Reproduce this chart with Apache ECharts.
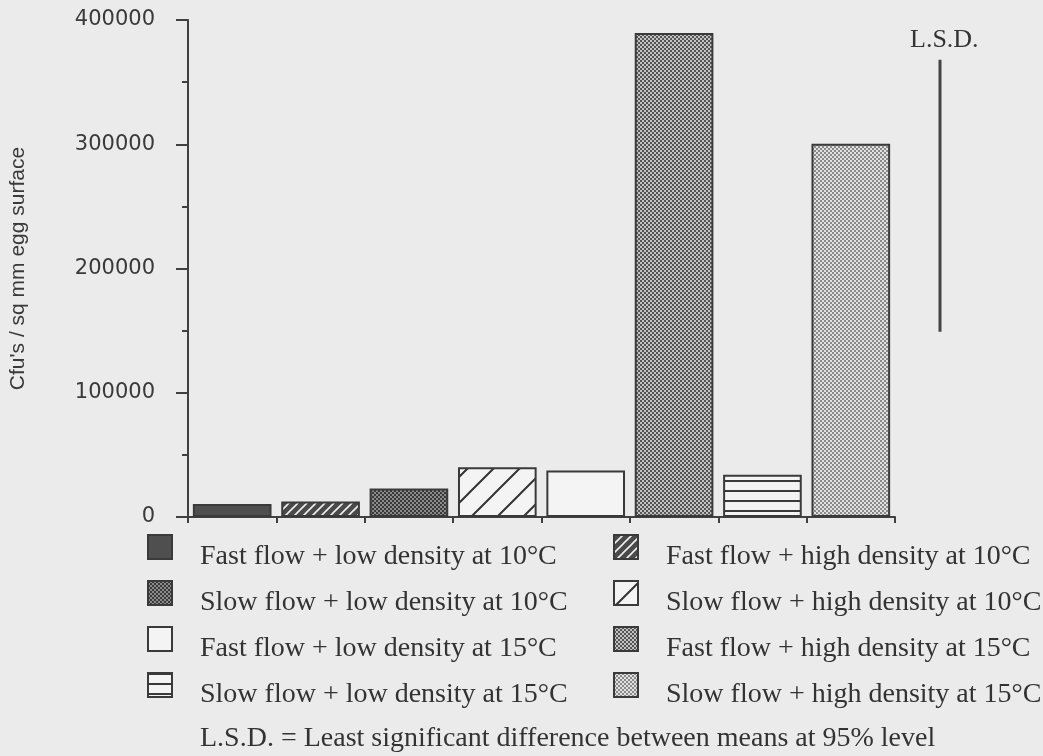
<!DOCTYPE html>
<html>
<head>
<meta charset="utf-8">
<script src="https://cdn.jsdelivr.net/npm/echarts@6/dist/echarts.min.js"></script>
<style>
html,body{margin:0;padding:0;background:#ebebeb;}
#chart{width:1043px;height:756px;}
</style>
</head>
<body>
<div id="chart"></div>
<script>
// ---- data ----
const categories = [
  'Fast flow + low density at 10°C',
  'Fast flow + high density at 10°C',
  'Slow flow + low density at 10°C',
  'Slow flow + high density at 10°C',
  'Fast flow + low density at 15°C',
  'Fast flow + high density at 15°C',
  'Slow flow + low density at 15°C',
  'Slow flow + high density at 15°C'
];
const values = [10500, 12500, 23000, 40000, 37500, 389500, 34000, 300500];
const legendLeft = [categories[0], categories[2], categories[4], categories[6]];
const legendRight = [categories[1], categories[3], categories[5], categories[7]];
const yMin = 0, yMax = 400000, yInterval = 100000;
const yAxisTitle = "Cfu's / sq mm egg surface";
const lsdLabel = 'L.S.D.';
const lsdRange = [149000, 368000];
const footnote = 'L.S.D. = Least significant difference between means at 95% level';

// ---- fill patterns ----
function pattern(w, h, draw) {
  const c = document.createElement('canvas');
  c.width = w; c.height = h;
  const ctx = c.getContext('2d');
  draw(ctx, w, h);
  return { image: c, repeat: 'repeat' };
}
function dots(dark, light) {
  return pattern(4, 4, (ctx) => {
    ctx.fillStyle = light; ctx.fillRect(0, 0, 4, 4);
    ctx.fillStyle = dark; ctx.fillRect(0, 0, 2, 2); ctx.fillRect(2, 2, 2, 2);
  });
}
function diag(bg, fg, size, lw) {
  return pattern(size, size, (ctx, w, h) => {
    ctx.fillStyle = bg; ctx.fillRect(0, 0, w, h);
    ctx.strokeStyle = fg; ctx.lineWidth = lw;
    ctx.beginPath();
    ctx.moveTo(-w, 2 * h); ctx.lineTo(2 * w, -h);
    ctx.moveTo(-w, h); ctx.lineTo(w, -h);
    ctx.moveTo(0, 2 * h); ctx.lineTo(2 * w, 0);
    ctx.stroke();
  });
}
const fills = [
  '#4f4f4f',
  diag('#4a4a4a', '#f0f0f0', 9, 1.6),
  dots('#3a3a3a', '#8a8a8a'),
  diag('#f4f4f4', '#333333', 26, 2),
  '#f4f4f4',
  dots('#555555', '#c2c2c2'),
  pattern(4, 10, (ctx) => {
    ctx.fillStyle = '#f4f4f4'; ctx.fillRect(0, 0, 4, 10);
    ctx.fillStyle = '#3a3a3a'; ctx.fillRect(0, 0, 4, 2);
  }),
  dots('#8a8a8a', '#e0e0e0')
];

const chart = echarts.init(document.getElementById('chart'), null, { renderer: 'canvas' });

const barSeries = categories.map((name, i) => ({
  type: 'bar',
  name: name,
  stack: 'all',
  barWidth: '89%',
  data: values.map((v, j) => (j === i ? v : '-')),
  itemStyle: { color: fills[i], borderColor: '#3a3a3a', borderWidth: 2 },
  emphasis: { disabled: true }
}));

// legend swatch: a square in the upper part of a taller item box
const swatch = 'path://M0,0H24V24H0Z M24,44';

const legendCommon = {
  orient: 'vertical',
  top: 534,
  padding: 0,
  itemGap: 0,
  itemWidth: 24,
  itemHeight: 44,
  icon: swatch,
  selectedMode: false,
  textStyle: {
    fontFamily: 'Liberation Serif',
    fontSize: 28,
    color: '#333333',
    padding: [0, 0, 0, 23]
  }
};

chart.setOption({
  backgroundColor: '#ebebeb',
  animation: false,
  title: [
    {
      text: lsdLabel, left: 910, top: 27, padding: 0,
      textStyle: { fontFamily: 'Liberation Serif', fontSize: 26, fontWeight: 'normal', color: '#333', lineHeight: 26 }
    },
    {
      text: footnote, left: 200, top: 724, padding: 0,
      textStyle: { fontFamily: 'Liberation Serif', fontSize: 28, fontWeight: 'normal', color: '#333', lineHeight: 30 }
    }
  ],
  legend: [
    Object.assign({}, legendCommon, { left: 147, data: legendLeft }),
    Object.assign({}, legendCommon, { left: 613, data: legendRight })
  ],
  grid: [
    { left: 187, right: 148, top: 20, bottom: 239 },
    { left: 900, right: 63, top: 20, bottom: 239 }
  ],
  xAxis: [
    {
      type: 'category', gridIndex: 0, data: categories,
      axisLine: { lineStyle: { color: '#404040', width: 2 } },
      axisTick: { show: true, interval: 0, length: 6, lineStyle: { color: '#404040', width: 2 } },
      axisLabel: { show: false },
      splitLine: { show: false }
    },
    {
      type: 'category', gridIndex: 1, data: [lsdLabel], show: false
    }
  ],
  yAxis: [
    {
      type: 'value', gridIndex: 0, min: yMin, max: yMax, interval: yInterval,
      name: yAxisTitle, nameLocation: 'middle', nameGap: 159, nameRotate: 90,
      nameTextStyle: { fontFamily: 'Liberation Sans', fontSize: 21, color: '#3a3a3a' },
      axisLine: { show: true, lineStyle: { color: '#404040', width: 2 } },
      axisTick: { show: true, length: 12, lineStyle: { color: '#404040', width: 2 } },
      minorTick: { show: true, splitNumber: 2, length: 6, lineStyle: { color: '#404040', width: 2 } },
      axisLabel: {
        fontFamily: 'DejaVu Sans', fontSize: 21, color: '#3a3a3a', margin: 33,
        formatter: (v) => String(v)
      },
      splitLine: { show: false }
    },
    {
      type: 'value', gridIndex: 1, min: yMin, max: yMax, show: false
    }
  ],
  series: barSeries.concat([
    {
      type: 'custom',
      name: lsdLabel,
      xAxisIndex: 1,
      yAxisIndex: 1,
      data: [[0, lsdRange[0], lsdRange[1]]],
      encode: { x: 0, y: [1, 2] },
      renderItem: function (params, api) {
        const p1 = api.coord([api.value(0), api.value(1)]);
        const p2 = api.coord([api.value(0), api.value(2)]);
        return {
          type: 'line',
          shape: { x1: p1[0], y1: p1[1], x2: p2[0], y2: p2[1] },
          style: { stroke: '#444', lineWidth: 3 }
        };
      }
    }
  ])
});
</script>
</body>
</html>
